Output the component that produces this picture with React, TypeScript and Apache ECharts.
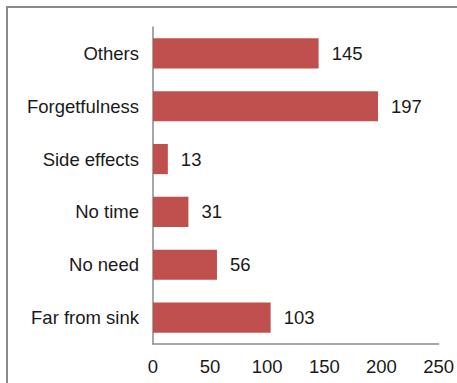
import React, { useEffect, useRef } from "react";
import * as echarts from "echarts";

// Reasons, listed bottom to top as drawn on the category axis
const reasons = ["Far from sink", "No need", "No time", "Side effects", "Forgetfulness", "Others"];
const counts = [103, 56, 31, 13, 197, 145];
const xTicks = [0, 50, 100, 150, 200, 250];

const FONT = "'Liberation Sans', Arial, Helvetica, sans-serif";

export default function App() {
  const ref = useRef<HTMLDivElement>(null);

  useEffect(() => {
    if (!ref.current) return;
    const chart = echarts.init(ref.current, undefined, { renderer: "svg" });
    chart.setOption({
      animation: false,
      backgroundColor: "#ffffff",
      graphic: [
        {
          type: "rect",
          shape: { x: 7, y: 7, width: 480, height: 420 },
          style: { fill: "none", stroke: "#8a8a8a", lineWidth: 2 },
          silent: true,
        },
      ],
      grid: { left: 153, right: 17, top: 27, bottom: 39, containLabel: false },
      xAxis: {
        type: "value",
        min: xTicks[0],
        max: xTicks[xTicks.length - 1],
        interval: 50,
        axisLine: { show: true, lineStyle: { color: "#8a8a8a", width: 1.5 } },
        axisTick: { show: false },
        splitLine: { show: false },
        axisLabel: { color: "#1a1a1a", fontSize: 18.5, fontFamily: FONT, margin: 13 },
      },
      yAxis: {
        type: "category",
        data: reasons,
        axisLine: { show: true, lineStyle: { color: "#8a8a8a", width: 1.5 } },
        axisTick: { show: false },
        axisLabel: { color: "#1a1a1a", fontSize: 18.5, fontFamily: FONT, margin: 14 },
      },
      series: [
        {
          type: "bar",
          data: counts,
          barCategoryGap: "43%",
          itemStyle: { color: "#c0504d" },
          label: {
            show: true,
            position: "right",
            distance: 13,
            color: "#1a1a1a",
            fontSize: 18.5,
            fontFamily: FONT,
          },
        },
      ],
    });
    return () => chart.dispose();
  }, []);

  return <div ref={ref} style={{ width: 457, height: 383, position: "absolute", left: 0, top: 0 }} />;
}
